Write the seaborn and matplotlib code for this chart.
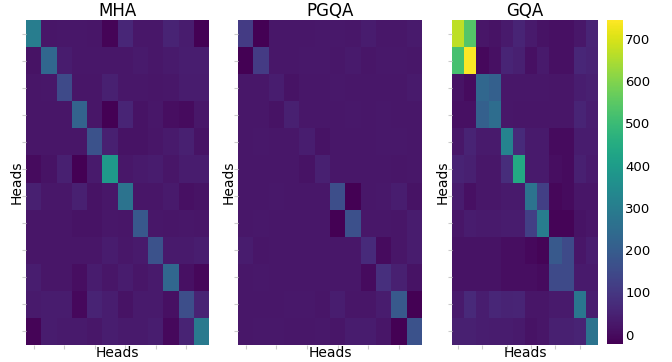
import numpy as np
import matplotlib
matplotlib.use("Agg")
import matplotlib.pyplot as plt
import seaborn as sns

titles = ["MHA", "PGQA", "GQA"]
axis_label = "Heads"
cbar_ticks = [0, 100, 200, 300, 400, 500, 600, 700]

mha = [
    [300, 20, 25, 25, 20, -15, 60, 25, 25, 50, 35, -20],
    [15, 230, 35, 25, 25, 25, 25, 30, 25, 30, 40, 40],
    [20, 25, 150, 20, 20, 45, 25, 25, 20, 25, 35, 35],
    [20, 20, 20, 220, 20, -20, 55, 15, 25, 5, 0, 25],
    [20, 20, 20, 20, 170, 45, 15, 15, 20, 30, 45, 15],
    [0, 15, 45, -20, 30, 390, 25, 30, 35, 20, 35, 35],
    [45, 25, 25, 45, 15, 25, 270, 20, 20, 30, 10, 15],
    [20, 20, 20, 15, 15, 25, 20, 185, 25, 20, 25, 20],
    [20, 20, 20, 20, 20, 35, 25, 30, 170, 30, 30, 40],
    [40, 20, 20, 5, 35, 20, 35, 20, 30, 230, 10, -10],
    [30, 35, 35, -5, 50, 40, 15, 30, 30, 10, 160, 50],
    [-15, 35, 30, 30, 25, 40, 30, 30, 40, -5, 50, 290],
]

pgqa = [
    [110, -20, 25, 25, 25, 28, 28, 25, 35, 25, 25, 30],
    [-20, 110, 25, 25, 28, 28, 25, 30, 20, 28, 28, 25],
    [25, 25, 40, 15, 25, 25, 28, 25, 25, 25, 25, 30],
    [25, 25, 15, 45, 25, 25, 25, 28, 25, 28, 25, 25],
    [25, 28, 25, 25, 40, 15, 25, 25, 25, 28, 28, 25],
    [25, 25, 25, 25, 15, 45, 25, 25, 25, 25, 20, 25],
    [25, 25, 28, 25, 25, 25, 160, -20, 25, 28, 40, 15],
    [25, 28, 25, 25, 25, 25, -20, 165, 25, 25, 20, 35],
    [35, 20, 25, 25, 25, 25, 25, 25, 70, 0, 20, 35],
    [25, 28, 25, 25, 25, 25, 25, 25, 0, 80, 45, 15],
    [25, 25, 25, 28, 28, 20, 40, 20, 20, 35, 190, -20],
    [25, 28, 28, 25, 25, 28, 20, 35, 35, 20, -20, 170],
]

gqa = [
    [670, 540, 20, 15, 30, 55, 30, 15, 10, 10, 25, 55],
    [520, 745, -5, 10, 55, 45, 10, 30, 10, 10, 60, 50],
    [15, 0, 230, 210, 25, 25, 25, 25, 20, 20, 40, 45],
    [10, 10, 210, 250, 25, 20, 20, 20, 20, 20, 55, 40],
    [25, 50, 30, 30, 320, 70, 30, 30, 0, 0, 35, 35],
    [50, 45, 25, 25, 75, 440, 30, 30, 5, 0, 45, 30],
    [35, 10, 25, 25, 30, 30, 270, 120, -10, 0, 20, 20],
    [20, 35, 30, 30, 35, 35, 120, 300, -15, -15, 15, 20],
    [15, 15, 15, 15, 5, 5, -5, -15, 190, 150, 20, 40],
    [15, 15, 15, 15, 5, 5, 5, 0, 150, 150, 30, 30],
    [30, 65, 40, 60, 50, 55, 20, 20, 30, 30, 280, 40],
    [45, 45, 40, 35, 35, 30, 15, 20, 45, 45, 50, 270],
]

vmin, vmax = -22, 745

fig = plt.figure(figsize=(6.72, 3.62), dpi=100)
W, H = 672, 362
boxes = [(26, 209), (238, 422), (452, 598)]
top, bottom = 20, 345
cax = fig.add_axes([607 / W, 1 - 344 / H, 16 / W, 324 / H])

for i, (mat, title) in enumerate(zip([mha, pgqa, gqa], titles)):
    x0, x1 = boxes[i]
    ax = fig.add_axes([x0 / W, 1 - bottom / H, (x1 - x0) / W, (bottom - top) / H])
    sns.heatmap(np.array(mat), ax=ax, cmap="viridis", vmin=vmin, vmax=vmax,
                cbar=(i == 2), cbar_ax=cax if i == 2 else None,
                xticklabels=2, yticklabels=1)
    ax.set_xticklabels([])
    ax.set_yticklabels([])
    ax.tick_params(axis="both", length=3, color="#cccccc", width=0.8)
    ax.set_title(title, fontsize=12, pad=2)
    ax.set_xlabel(axis_label, fontsize=10)
    ax.set_ylabel(axis_label, fontsize=10)
    ax.xaxis.set_label_coords(0.5, -0.004)
    ax.yaxis.set_label_coords(-2.0 / (x1 - x0), 0.5)

cax.set_yticks(cbar_ticks)
cax.tick_params(length=0, labelsize=9.5, pad=1.5)

fig.savefig("out.png", dpi=100)
